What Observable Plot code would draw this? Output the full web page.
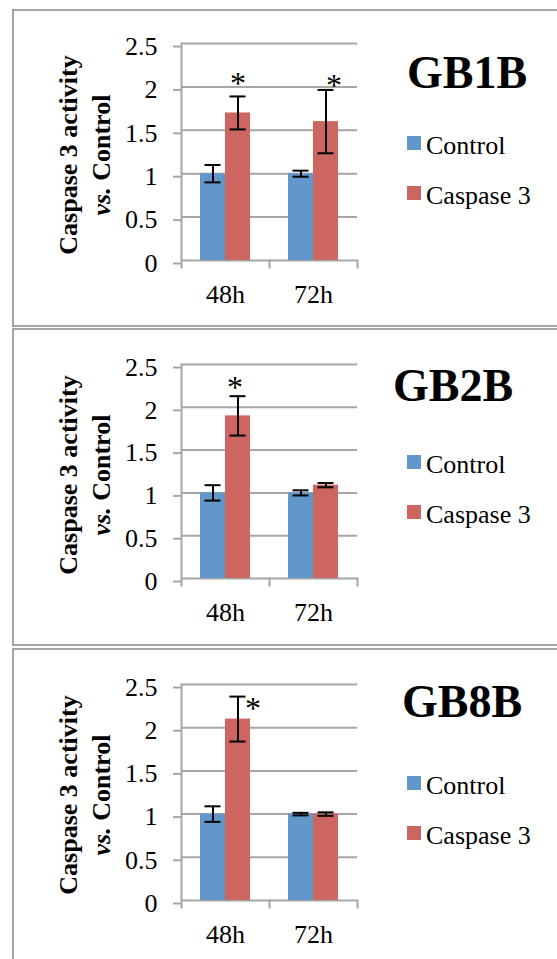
<!DOCTYPE html>
<html><head><meta charset="utf-8">
<script src="https://cdn.jsdelivr.net/npm/d3@7"></script>
<script src="https://cdn.jsdelivr.net/npm/@observablehq/plot@0.6"></script>
<style>
body{margin:0;background:#fff;}
#page{position:relative;width:557px;height:959px;overflow:hidden;font-family:"Liberation Serif","Times New Roman",serif;color:#000;}
.box{position:absolute;left:12px;width:620px;border:2px solid #a6a6a6;box-sizing:border-box;}
.abs{position:absolute;white-space:nowrap;line-height:1;font-family:"Liberation Serif","Times New Roman",serif;}
.sw{position:absolute;width:14px;height:14px;}
</style></head><body><div id="page"></div>
<script>
// ---- data ----
const times = ["48h", "72h"];
const series = ["Control", "Caspase 3"];
const colors = ["#6197CA", "#CD6660"];
const yTicks = [0, 0.5, 1, 1.5, 2, 2.5];
const panelNames = ["GB1B", "GB2B", "GB8B"];
const yTitle1 = "Caspase 3 activity";
const yTitle2a = "vs.";
const yTitle2b = " Control";

// values per time point [48h, 72h]
const gb1bControl = [1.0, 1.0];
const gb1bControlErr = [0.1, 0.035];
const gb1bCaspase = [1.7, 1.6];
const gb1bCaspaseErr = [0.19, 0.365];

const gb2bControl = [1.0, 1.0];
const gb2bControlErr = [0.09, 0.03];
const gb2bCaspase = [1.9, 1.09];
const gb2bCaspaseErr = [0.23, 0.025];

const gb8bControl = [1.0, 1.0];
const gb8bControlErr = [0.09, 0.015];
const gb8bCaspase = [2.1, 1.0];
const gb8bCaspaseErr = [0.26, 0.02];

// significance asterisk heights (null = none)
const gb1bStars = [2.11, 2.08];
const gb2bStars = [2.3, null];
const gb8bStars = [2.29, null];

// ---- layout (styles) ----
const layout = [
  {boxTop: 9, boxH: 318, svgTop: 0, mt: 43, mb: 60, h: 320, titleX: 407, titleBase: 89, legTop: 136, yTitleY: 154.5, starDx: [0, 8]},
  {boxTop: 328, boxH: 318, svgTop: 320, mt: 44, mb: 62, h: 320, titleX: 393, titleBase: 402, legTop: 455, yTitleY: 475, starDx: [-3, 0]},
  {boxTop: 648, boxH: 400, svgTop: 640, mt: 44, mb: 59, h: 319, titleX: 402, titleBase: 718, legTop: 776, yTitleY: 795, starDx: [15, 0]}
];

const panels = [
  {name: panelNames[0], c: gb1bControl, ce: gb1bControlErr, k: gb1bCaspase, ke: gb1bCaspaseErr, stars: gb1bStars},
  {name: panelNames[1], c: gb2bControl, ce: gb2bControlErr, k: gb2bCaspase, ke: gb2bCaspaseErr, stars: gb2bStars},
  {name: panelNames[2], c: gb8bControl, ce: gb8bControlErr, k: gb8bCaspase, ke: gb8bCaspaseErr, stars: gb8bStars}
];

const GRAY = "#a6a6a6";
const FONT = "'Liberation Serif','Times New Roman',serif";
const page = document.getElementById("page");
const asc = 0.8375;

function addDiv(cls, css, html) {
  const d = document.createElement("div");
  d.className = cls;
  Object.assign(d.style, css);
  if (html != null) d.innerHTML = html;
  page.appendChild(d);
  return d;
}

panels.forEach((p, i) => {
  const L = layout[i];
  addDiv("box", {top: L.boxTop + "px", height: L.boxH + "px"});

  const rows = [];
  times.forEach((t, j) => {
    rows.push({time: t, series: series[0], value: p.c[j], err: p.ce[j]});
    rows.push({time: t, series: series[1], value: p.k[j], err: p.ke[j]});
  });
  const plotH = L.h - L.mt - L.mb;

  const starMarks = [];
  p.stars.forEach((s, j) => {
    if (s == null) return;
    starMarks.push(Plot.text([{time: times[j], series: series[1], y: s}], {
      fx: "time", x: "series", y: "y", text: () => "*",
      fontSize: 32, fontFamily: FONT, fill: "black", dx: L.starDx[j], dy: 6
    }));
  });

  const svg = Plot.plot({
    width: 360, height: L.h,
    marginLeft: 181, marginRight: 3, marginTop: L.mt, marginBottom: L.mb,
    style: {fontFamily: FONT, fontSize: "26px", color: "black", background: "transparent", overflow: "visible"},
    fx: {domain: times, padding: 0, label: null},
    x: {domain: series, paddingInner: 0, paddingOuter: 0.76, axis: null},
    y: {domain: [0, 2.5]},
    color: {domain: series, range: colors},
    marks: [
      Plot.gridY(yTicks, {stroke: GRAY, strokeOpacity: 1, strokeWidth: 2}),
      Plot.axisY(yTicks, {tickSize: 8, tickPadding: 16, stroke: GRAY, strokeWidth: 2, tickFormat: d => String(d), label: null, fontSize: 26, fontFamily: FONT, dy: 3}),
      Plot.axisFx({anchor: "bottom", tickSize: 0, tickPadding: 24, label: null, fontSize: 26, fontFamily: FONT}),
      Plot.frame({anchor: "left", facetAnchor: "left", stroke: GRAY, strokeWidth: 2, insetBottom: -7}),
      Plot.frame({anchor: "right", stroke: GRAY, strokeWidth: 2, insetTop: plotH, insetBottom: -7}),
      Plot.barY(rows, {fx: "time", x: "series", y: "value", fill: "series"}),
      Plot.ruleX(rows, {fx: "time", x: "series", y1: d => d.value - d.err, y2: d => d.value + d.err, stroke: "black", strokeWidth: 2}),
      Plot.tickY(rows, {fx: "time", x: "series", y: d => d.value - d.err, stroke: "black", strokeWidth: 2, insetLeft: 4.5, insetRight: 4.5}),
      Plot.tickY(rows, {fx: "time", x: "series", y: d => d.value + d.err, stroke: "black", strokeWidth: 2, insetLeft: 4.5, insetRight: 4.5}),
      ...starMarks
    ]
  });
  svg.style.position = "absolute";
  svg.style.left = "0px";
  svg.style.top = L.svgTop + "px";
  page.appendChild(svg);

  // title
  addDiv("abs", {left: L.titleX + "px", top: (L.titleBase - asc * 46) + "px", fontSize: "46px", fontWeight: "bold"}, p.name);
  // legend
  series.forEach((s, j) => {
    const top = L.legTop + j * 50;
    addDiv("sw", {left: "407px", top: top + "px", background: colors[j]});
    addDiv("abs", {left: "426px", top: (top + 19 - asc * 26) + "px", fontSize: "26px"}, s);
  });
  // y title
  addDiv("abs", {left: "84.7px", top: L.yTitleY + "px", fontSize: "26px", fontWeight: "bold", lineHeight: "33px", textAlign: "center",
    transform: "translate(-50%,-50%) rotate(-90deg)"}, yTitle1 + "<br><i>" + yTitle2a + "</i>" + yTitle2b);
});
</script></body></html>
